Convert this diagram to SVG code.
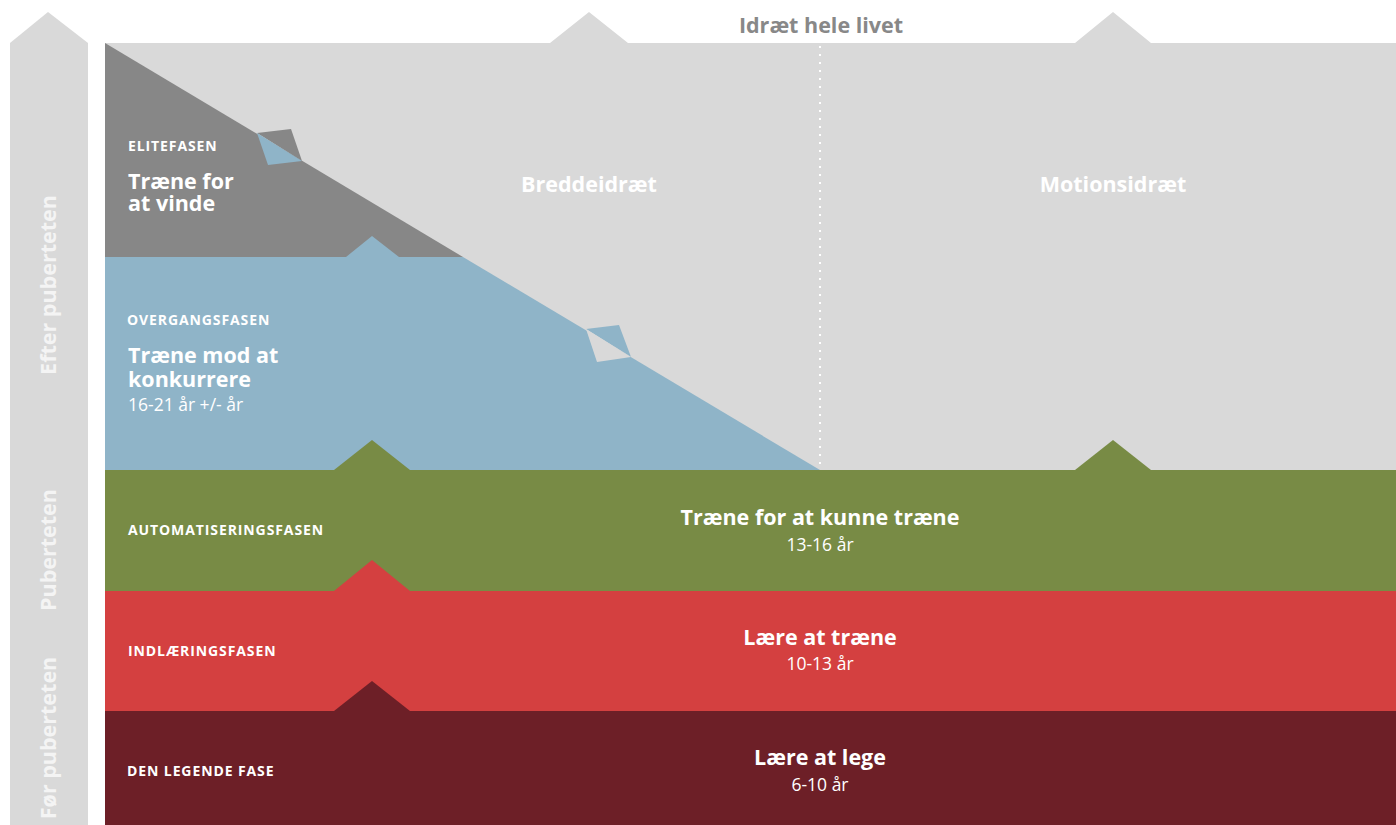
<svg xmlns="http://www.w3.org/2000/svg" width="1396" height="825" viewBox="0 0 1396 825">
  <style>
    text { font-family: "Open Sans", Lato, "Liberation Sans", sans-serif; fill: #ffffff; }
    .phase { font-size: 14px; font-weight: 700; letter-spacing: 0.9px; }
    .title { font-size: 21.5px; font-weight: 700; }
    .age { font-size: 17.5px; font-weight: 400; }
    .zone { font-size: 21.5px; font-weight: 700; }
    .side { font-size: 21.5px; font-weight: 700; fill: #f4f4f4; }
    .top { font-size: 21.5px; font-weight: 700; fill: #888888; }
    .lgray { fill: #d9d9d9; }
    .dgray { fill: #878787; }
    .blue { fill: #8fb4c8; }
    .green { fill: #788b45; }
    .red { fill: #d44040; }
    .dred { fill: #6d1f27; }
  </style>

  <rect width="1396" height="825" fill="#ffffff"/>

  <!-- left age column with arrow head -->
  <g id="age-column">
    <polygon class="lgray" points="10,43 48,12 88,43 88,825 10,825"/>
    <text class="side" transform="translate(56,285) rotate(-90)" text-anchor="middle">Efter puberteten</text>
    <text class="side" transform="translate(56,550) rotate(-90)" text-anchor="middle">Puberteten</text>
    <text class="side" transform="translate(56,738) rotate(-90)" text-anchor="middle">Før puberteten</text>
  </g>

  <!-- lifelong sport area -->
  <g id="idraet-hele-livet">
    <polygon class="lgray" points="105,43 550,43 589,12 628,43 1075,43 1113,12 1151,43 1396,43 1396,470 105,470"/>
    <text class="top" x="821" y="33" text-anchor="middle">Idræt hele livet</text>
    <text class="zone" x="589" y="192" text-anchor="middle">Breddeidræt</text>
    <text class="zone" x="1113" y="192" text-anchor="middle">Motionsidræt</text>
  </g>

  <!-- elite phase -->
  <g id="elitefasen">
    <polygon class="dgray" points="105,43 463,257 105,257"/>
    <polygon class="dgray" points="257,133 291,129 302,161"/>
    <polygon class="blue" points="257,133 302,161 268,165"/>
    <text class="phase" x="128" y="151">ELITEFASEN</text>
    <text class="title"><tspan x="128" y="189">Træne for</tspan><tspan x="128" y="211">at vinde</tspan></text>
  </g>

  <!-- transition phase -->
  <g id="overgangsfasen">
    <polygon class="blue" points="105,257 463,257 820,470 105,470"/>
    <polygon class="blue" points="346,257 372,236 399,257"/>
    <polygon class="blue" points="586,329 619,325 631,357"/>
    <polygon class="lgray" points="586,329 631,357 597,362"/>
    <text class="phase" x="127" y="325">OVERGANGSFASEN</text>
    <text class="title"><tspan x="128" y="363">Træne mod at</tspan><tspan x="128" y="387">konkurrere</tspan></text>
    <text class="age" x="128" y="411">16-21 år +/- år</text>
  </g>

  <!-- automation phase -->
  <g id="automatiseringsfasen">
    <rect class="green" x="105" y="470" width="1291" height="121"/>
    <polygon class="green" points="334,470 372,440 410,470"/>
    <polygon class="green" points="1075,470 1113,440 1151,470"/>
    <text class="phase" x="128" y="535">AUTOMATISERINGSFASEN</text>
    <text class="title" x="820" y="525" text-anchor="middle">Træne for at kunne træne</text>
    <text class="age" x="820" y="551" text-anchor="middle">13-16 år</text>
  </g>

  <!-- learning phase -->
  <g id="indlaeringsfasen">
    <rect class="red" x="105" y="591" width="1291" height="120"/>
    <polygon class="red" points="334,591 372,560 410,591"/>
    <text class="phase" x="128" y="656">INDLÆRINGSFASEN</text>
    <text class="title" x="820" y="645" text-anchor="middle">Lære at træne</text>
    <text class="age" x="820" y="670" text-anchor="middle">10-13 år</text>
  </g>

  <!-- play phase -->
  <g id="den-legende-fase">
    <rect class="dred" x="105" y="711" width="1291" height="114"/>
    <polygon class="dred" points="334,711 372,681 410,711"/>
    <text class="phase" x="127" y="776">DEN LEGENDE FASE</text>
    <text class="title" x="820" y="765" text-anchor="middle">Lære at lege</text>
    <text class="age" x="820" y="791" text-anchor="middle">6-10 år</text>
  </g>

  <!-- divider between recreational zones -->
  <g id="connectors">
    <line x1="820" y1="46" x2="820" y2="470" stroke="#ffffff" stroke-width="2" stroke-dasharray="2 6"/>
  </g>
</svg>
